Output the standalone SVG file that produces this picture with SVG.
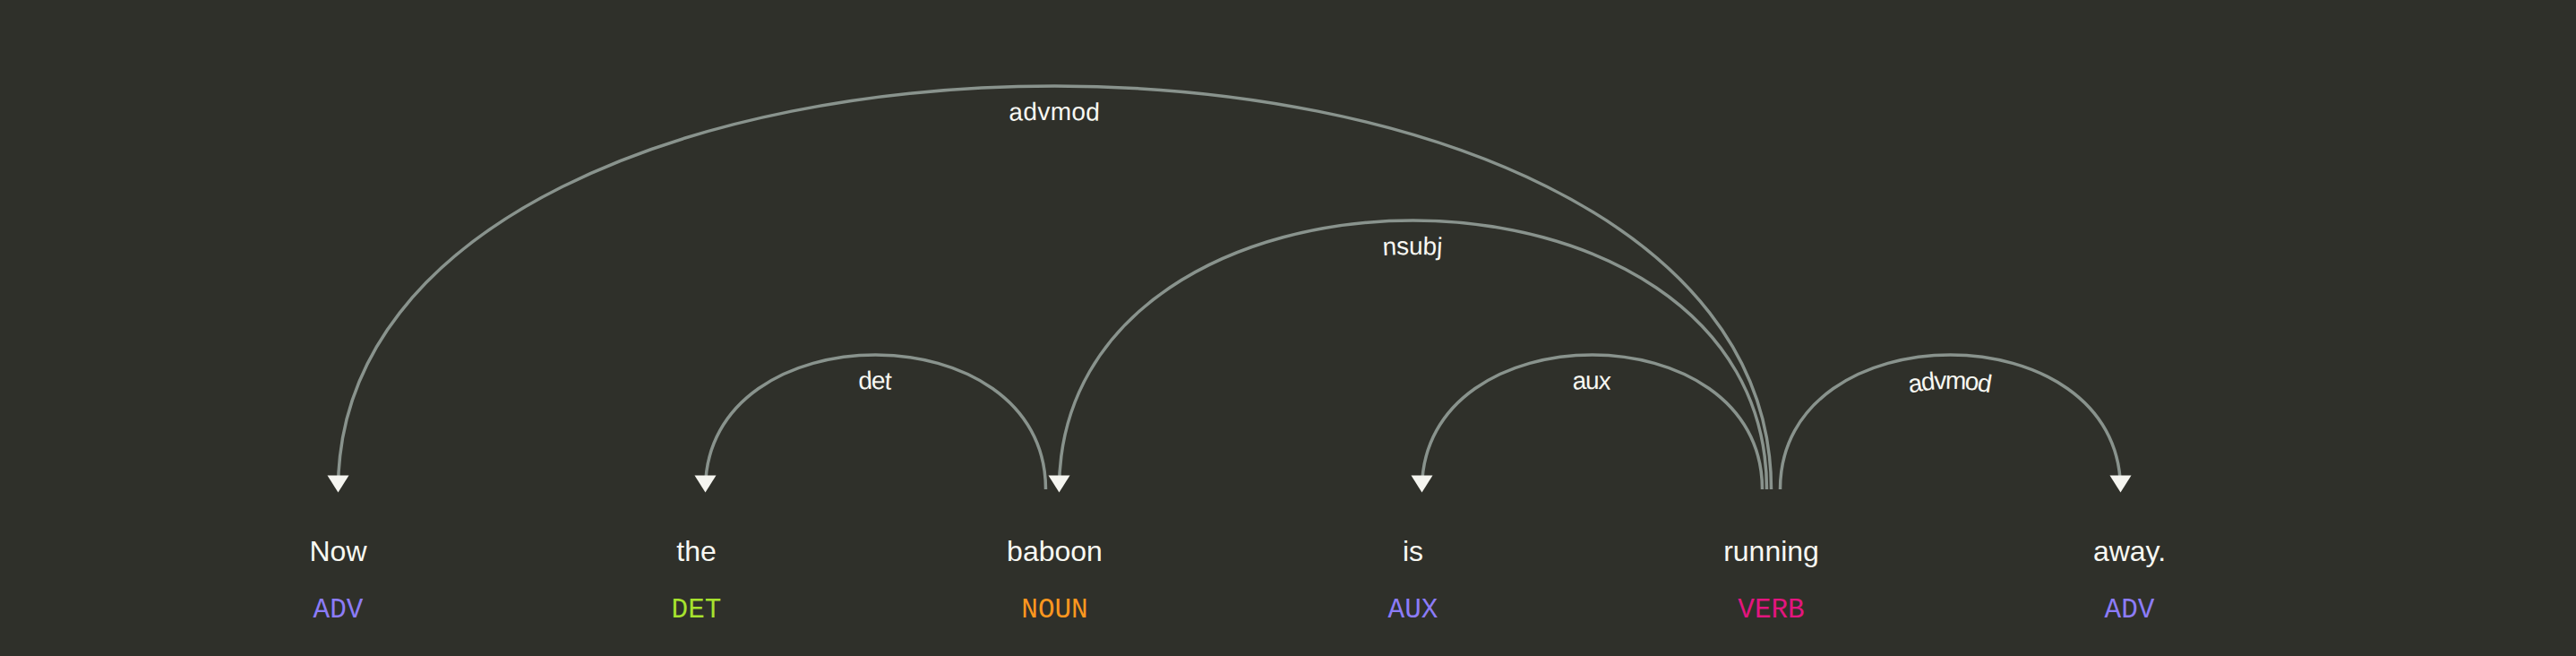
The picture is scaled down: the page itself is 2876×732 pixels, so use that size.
<svg xmlns="http://www.w3.org/2000/svg" xmlns:xlink="http://www.w3.org/1999/xlink" width="2876" height="732" viewBox="0 0 2876 732">
<style>
.word{font-family:"Liberation Sans",Arial,sans-serif;font-size:32px;fill:#f8f8f2;text-anchor:middle}
.tag{font-family:"Liberation Mono","DejaVu Sans Mono",monospace;font-size:31px;text-anchor:middle}
.arc{fill:none;stroke:#89938d;stroke-width:3.5px}
.label{font-family:"Liberation Sans",Arial,sans-serif;font-size:28px;letter-spacing:0.7px;fill:#f8f8f2}
.head{fill:#f5f5f0}
</style>
<defs>
<path id="arc1" d="M377.5,546 C377.5,-54 1977.5,-54 1977.5,546"/>
<path id="arc2" d="M787.5,546 C787.5,346 1167.5,346 1167.5,546"/>
<path id="arc3" d="M1182.5,546 C1182.5,146 1972.5,146 1972.5,546"/>
<path id="arc4" d="M1587.5,546 C1587.5,346 1967.5,346 1967.5,546"/>
<path id="arc5" d="M1987.5,546 C1987.5,346 2367.5,346 2367.5,546"/>
</defs>
<rect width="2876" height="732" fill="#2f302a"/>
<g id="connectors">
<use href="#arc1" class="arc"/>
<use href="#arc2" class="arc"/>
<use href="#arc3" class="arc"/>
<use href="#arc4" class="arc"/>
<use href="#arc5" class="arc"/>
<text class="label" dy="38"><textPath href="#arc1" startOffset="50%" text-anchor="middle">advmod</textPath></text>
<text class="label" dy="38"><textPath href="#arc2" startOffset="50%" text-anchor="middle">det</textPath></text>
<text class="label" dy="38"><textPath href="#arc3" startOffset="50%" text-anchor="middle">nsubj</textPath></text>
<text class="label" dy="38"><textPath href="#arc4" startOffset="50%" text-anchor="middle">aux</textPath></text>
<text class="label" dy="38"><textPath href="#arc5" startOffset="50%" text-anchor="middle">advmod</textPath></text>
<path class="head" d="M377.5,549.5 L365.5,530.5 L389.5,530.5 Z"/>
<path class="head" d="M787.5,549.5 L775.5,530.5 L799.5,530.5 Z"/>
<path class="head" d="M1182.5,549.5 L1170.5,530.5 L1194.5,530.5 Z"/>
<path class="head" d="M1587.5,549.5 L1575.5,530.5 L1599.5,530.5 Z"/>
<path class="head" d="M2367.5,549.5 L2355.5,530.5 L2379.5,530.5 Z"/>
</g>
<g id="token-0"><text class="word" x="377.5" y="626">Now</text><text class="tag" x="377.5" y="689" fill="#8c7cf8">ADV</text></g>
<g id="token-1"><text class="word" x="777.5" y="626">the</text><text class="tag" x="777.5" y="689" fill="#a6e22e">DET</text></g>
<g id="token-2"><text class="word" x="1177.5" y="626">baboon</text><text class="tag" x="1177.5" y="689" fill="#fd971f">NOUN</text></g>
<g id="token-3"><text class="word" x="1577.5" y="626">is</text><text class="tag" x="1577.5" y="689" fill="#8c7cf8">AUX</text></g>
<g id="token-4"><text class="word" x="1977.5" y="626">running</text><text class="tag" x="1977.5" y="689" fill="#e3157f">VERB</text></g>
<g id="token-5"><text class="word" x="2377.5" y="626">away.</text><text class="tag" x="2377.5" y="689" fill="#8c7cf8">ADV</text></g>
</svg>
